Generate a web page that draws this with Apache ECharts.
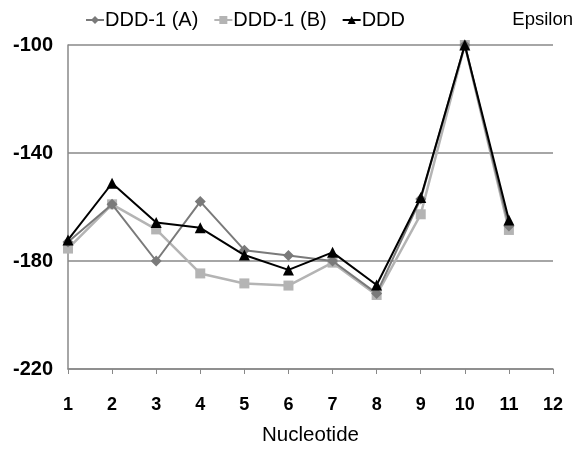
<!DOCTYPE html>
<html><head><meta charset="utf-8">
<script src="https://cdn.jsdelivr.net/npm/echarts@6/dist/echarts.min.js"></script>
<style>html,body{margin:0;padding:0;background:#fff}#c{width:582px;height:451px}</style>
</head><body><div id="c"></div>
<script>
const nucleotides = [1,2,3,4,5,6,7,8,9,10,11];
const dddA = [-173,-159,-180,-158,-176,-178,-180,-192,-157,-100,-167];
const dddB = [-175.4,-159,-168.3,-184.6,-188.3,-189.1,-180.6,-192.6,-162.7,-100,-168.5];
const ddd = [-172.2,-151.2,-165.7,-167.7,-177.8,-183.3,-176.8,-188.9,-156.5,-100,-164.8];
const seriesNames = ['DDD-1 (A)','DDD-1 (B)','DDD'];
const pair = a => nucleotides.map((x,i)=>[x,a[i]]);
const font = 'Liberation Sans, Arial, sans-serif';
const chart = echarts.init(document.getElementById('c'));
chart.setOption({
  animation:false,
  textStyle:{fontFamily:font},
  legend:{left:80, top:5, itemWidth:18, itemHeight:10, itemGap:15,
    textStyle:{fontSize:20, color:'#000', fontFamily:font, padding:[0,0,0,-4]},
    data:seriesNames},
  title:{text:'Epsilon', right:4, top:5, textStyle:{fontSize:18.5, fontWeight:'normal', color:'#000', fontFamily:font}},
  grid:{left:68, right:29, top:45, bottom:82},
  xAxis:{type:'value', min:1, max:12, interval:1,
    name:'Nucleotide', nameLocation:'middle', nameGap:56,
    nameTextStyle:{fontSize:20.5, color:'#000', fontFamily:font},
    axisLine:{lineStyle:{color:'#888', width:1.5}},
    axisTick:{show:true, length:5, lineStyle:{color:'#888'}},
    axisLabel:{fontSize:18, fontWeight:'bold', color:'#000', margin:27, fontFamily:font},
    splitLine:{show:false}},
  yAxis:{type:'value', min:-220, max:-100, interval:40,
    axisLine:{show:true, lineStyle:{color:'#888', width:1.5}},
    axisTick:{show:false},
    axisLabel:{fontSize:20, fontWeight:'bold', color:'#000', margin:15, fontFamily:font, padding:[6,0,0,0]},
    splitLine:{lineStyle:{color:'#888', width:1.5}}},
  series:[
    {name:seriesNames[0], type:'line', data:pair(dddA), symbol:'diamond', symbolSize:11,
     color:'#7a7a7a', lineStyle:{width:2, color:'#7a7a7a'}, itemStyle:{color:'#7a7a7a'}, z:2},
    {name:seriesNames[1], type:'line', data:pair(dddB), symbol:'rect', symbolSize:10,
     color:'#b4b4b4', lineStyle:{width:2.5, color:'#b4b4b4'}, itemStyle:{color:'#b4b4b4'}, z:1},
    {name:seriesNames[2], type:'line', data:pair(ddd), symbol:'triangle', symbolSize:11,
     color:'#000', lineStyle:{width:2, color:'#000'}, itemStyle:{color:'#000'}, z:3}
  ]
});
</script></body></html>
